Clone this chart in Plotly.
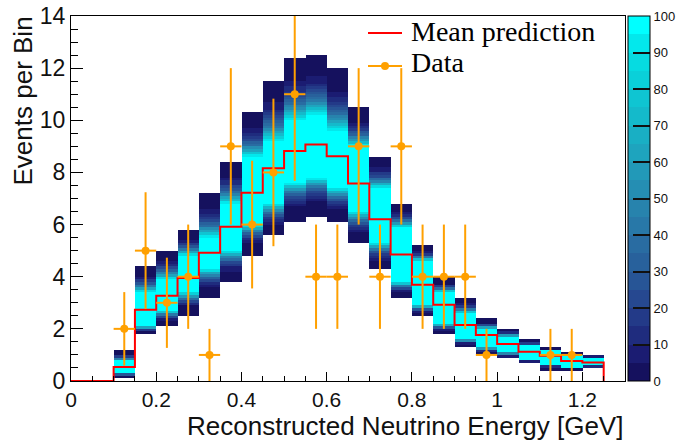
import plotly.graph_objects as go

# ---------------- data ----------------
bin_edges = [0.00, 0.05, 0.10, 0.15, 0.20, 0.25, 0.30, 0.35, 0.40, 0.45, 0.50,
             0.55, 0.60, 0.65, 0.70, 0.75, 0.80, 0.85, 0.90, 0.95, 1.00,
             1.05, 1.10, 1.15, 1.20, 1.25]
mean_pred = [0, 0, 0.54, 2.73, 3.27, 3.95, 4.92, 5.92, 7.22, 8.16, 8.82, 9.07,
             8.62, 7.58, 6.20, 4.85, 3.69, 2.92, 2.15, 1.76, 1.42, 1.12, 0.97,
             0.77, 0.71]
# extent of the throw band per bin (outer) and of its saturated core
band_low = [None, None, 0.15, 1.76, 2.08, 2.54, 3.20, 3.80, 4.85, 5.56, 6.14,
            6.33, 6.14, 5.28, 4.27, 3.18, 2.47, 1.76, 1.35, 1.00, 0.86, 0.67,
            0.45, 0.42, 0.50]
band_high = [None, None, 1.18, 4.40, 5.00, 5.80, 7.20, 8.40, 10.3, 11.5, 12.4,
             12.5, 12.0, 10.5, 8.60, 6.78, 5.17, 3.95, 3.18, 2.37, 1.98, 1.57,
             1.28, 1.10, 0.99]
core_low = [None, None, 0.30, 2.10, 2.70, 3.40, 4.30, 5.00, 6.00, 6.80, 7.60,
            7.80, 7.40, 6.50, 5.30, 3.80, 2.90, 2.20, 1.60, 1.30, 1.10, 0.85,
            0.65, 0.55, 0.60]
core_high = [None, None, 0.75, 3.40, 3.90, 4.80, 5.50, 6.80, 8.60, 9.20, 10.0,
             10.2, 9.60, 9.00, 7.40, 5.90, 4.60, 3.40, 2.60, 2.00, 1.70, 1.35,
             1.15, 0.95, 0.90]

data_x = [0.125, 0.175, 0.225, 0.275, 0.325, 0.375, 0.425, 0.475, 0.525, 0.575,
          0.625, 0.675, 0.725, 0.775, 0.825, 0.875, 0.925, 0.975, 1.125, 1.175]
data_y = [2, 5, 3, 4, 1, 9, 6, 8, 11, 4, 4, 9, 4, 9, 4, 4, 4, 1, 1, 1]
data_yerr = [1.41, 2.24, 1.73, 2.00, 1.00, 3.00, 2.45, 2.83, 3.32, 2.00, 2.00,
             3.00, 2.00, 3.00, 2.00, 2.00, 2.00, 1.00, 1.00, 1.00]
data_xerr = [0.025] * 20

cbar_ticks = [0, 10, 20, 30, 40, 50, 60, 70, 80, 90, 100]

# ---------------- build the 2D throw map ----------------
y_step = 0.1
n_y = 140
y_centers = [y_step * (j + 0.5) for j in range(n_y)]
x_centers = [(bin_edges[i] + bin_edges[i + 1]) / 2 for i in range(len(bin_edges) - 1)]

z = []
for yc in y_centers:
    row = []
    for i in range(len(x_centers)):
        lo, hi, clo, chi = band_low[i], band_high[i], core_low[i], core_high[i]
        if lo is None or yc < lo or yc > hi:
            row.append(None)
        elif clo <= yc <= chi:
            row.append(100)
        elif yc > chi:
            t = (yc - chi) / (hi - chi)
            row.append(100 * (1 - t) ** 3)
        else:
            t = (clo - yc) / (clo - lo)
            row.append(100 * (1 - t) ** 3)
    z.append(row)

pal = ["#15115e", "#1b1c72", "#1f2c7e", "#233a88", "#264890", "#275596",
       "#28619c", "#296ca2", "#2878a8", "#2783ad", "#258eb3", "#2299b8",
       "#1ea4be", "#19afc4", "#14bacb", "#0fc5d2", "#0ad0d9", "#06dbe1",
       "#03e8ec", "#00ffff"]
cscale = []
for k, c in enumerate(pal):
    cscale.append([k / len(pal), c])
    cscale.append([(k + 1) / len(pal), c])

fig = go.Figure()
fig.add_trace(go.Heatmap(
    x=x_centers, y=y_centers, z=z, zmin=0, zmax=100,
    colorscale=cscale, hoverinfo="skip",
    colorbar=dict(
        x=1.0054, xanchor="left", xref="paper", thickness=22, thicknessmode="pixels",
        len=1, lenmode="fraction", y=0.5, yanchor="middle",
        outlinecolor="black", outlinewidth=1,
        tickvals=cbar_ticks, ticks="inside", ticklen=17, tickcolor="#111",
        tickwidth=1.5,
        tickfont=dict(family="Liberation Sans, Arial", size=13, color="#111"),
        ypad=0, xpad=0,
    ),
))

fig.add_trace(go.Scatter(
    x=bin_edges, y=mean_pred + [0], mode="lines", line_shape="hv",
    line=dict(color="#ff0000", width=2), hoverinfo="skip", showlegend=False,
))

fig.add_trace(go.Scatter(
    x=data_x, y=data_y, mode="markers",
    marker=dict(color="#ffa000", size=8),
    error_y=dict(type="data", array=data_yerr, color="#ffa000", thickness=2, width=0),
    error_x=dict(type="data", array=data_xerr, color="#ffa000", thickness=2, width=0),
    hoverinfo="skip", showlegend=False,
))

W, H = 676, 440
L, R, T, B = 71, 51, 16, 59
pw, ph = W - L - R, H - T - B

def px(xp):
    return (xp - L) / pw

def py(yp):
    return (H - B - yp) / ph

tickfont = dict(family="Liberation Sans, Arial", size=21, color="#111")

fig.update_layout(
    width=W, height=H, margin=dict(l=L, r=R, t=T, b=B, pad=0, autoexpand=False),
    paper_bgcolor="white", plot_bgcolor="white", showlegend=False,
    font=dict(family="Liberation Sans, Arial"),
    xaxis=dict(range=[0, 1.3], showgrid=False, zeroline=False,
               showline=True, mirror=True, linecolor="black", linewidth=1,
               ticks="inside", ticklen=9, tickcolor="black",
               tickvals=[0, 0.2, 0.4, 0.6, 0.8, 1.0, 1.2],
               ticktext=["0", "0.2", "0.4", "0.6", "0.8", "1", "1.2"],
               minor=dict(dtick=0.05, tick0=0, ticks="inside", ticklen=5, tickcolor="black"),
               tickfont=tickfont, ticklabelstandoff=0),
    yaxis=dict(range=[0, 14], showgrid=False, zeroline=False,
               showline=True, mirror=True, linecolor="black", linewidth=1,
               ticks="inside", ticklen=12, tickcolor="black", dtick=2, tick0=0,
               minor=dict(dtick=0.5, tick0=0, ticks="inside", ticklen=7, tickcolor="black"),
               tickfont=dict(family="Liberation Sans, Arial", size=23, color="#111")),
)

# axis titles (ROOT style: aligned to the axis end)
fig.add_annotation(text="Reconstructed Neutrino Energy [GeV]", xref="paper", yref="paper",
                   x=1.0, y=py(426), xanchor="right", yanchor="middle", showarrow=False,
                   font=dict(family="Liberation Sans, Arial", size=26, color="#111"))
fig.add_annotation(text="Events per Bin", xref="paper", yref="paper",
                   x=px(23), y=py(15), xanchor="center", yanchor="top", textangle=-90,
                   showarrow=False,
                   font=dict(family="Liberation Sans, Arial", size=26, color="#111"))

# legend
fig.add_shape(type="line", xref="paper", yref="paper", x0=px(368), x1=px(402),
              y0=py(33), y1=py(33), line=dict(color="#ff0000", width=2))
fig.add_shape(type="line", xref="paper", yref="paper", x0=px(368), x1=px(402),
              y0=py(66), y1=py(66), line=dict(color="#ffa000", width=2))
fig.add_shape(type="circle", xref="paper", yref="paper", x0=px(381), x1=px(389),
              y0=py(70), y1=py(62), fillcolor="#ffa000", line=dict(color="#ffa000", width=0))
fig.add_annotation(text="Mean prediction", xref="paper", yref="paper", x=px(409), y=py(31),
                   xanchor="left", yanchor="middle", showarrow=False,
                   font=dict(family="Liberation Serif, Times New Roman", size=28, color="black"))
fig.add_annotation(text="Data", xref="paper", yref="paper", x=px(409), y=py(62),
                   xanchor="left", yanchor="middle", showarrow=False,
                   font=dict(family="Liberation Serif, Times New Roman", size=28, color="black"))

fig.write_html("out.html")
